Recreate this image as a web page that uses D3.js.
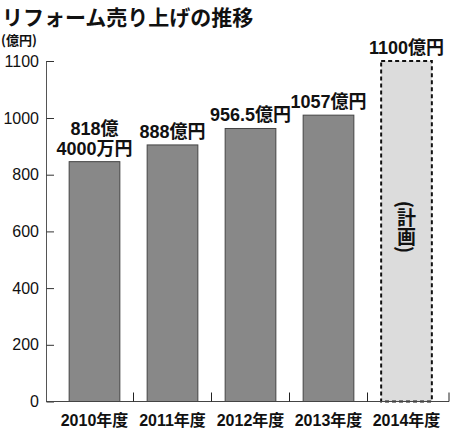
<!DOCTYPE html>
<html>
<head>
<meta charset="utf-8">
<script src="https://cdn.jsdelivr.net/npm/d3@7"></script>
<style>
  body { margin: 0; background: #fff; }
  text { font-family: "Liberation Sans", "Noto Sans CJK JP", sans-serif; fill: #111; }
</style>
</head>
<body>
<div id="chart"></div>
<script>
// data
const years = ["2010年度", "2011年度", "2012年度", "2013年度", "2014年度"];
const barValues = [846, 905, 963, 1005, 1100];   // bar heights as drawn
const labelLines = [["818億", "4000万円"], ["888億円"], ["956.5億円"], ["1057億円"], ["1100億円"]];
const planned = [false, false, false, false, true];
const yTicks = [0, 200, 400, 600, 800, 1000, 1100];

const svg = d3.select("#chart").append("svg")
    .attr("width", 450)
    .attr("height", 429);

// title
svg.append("text")
    .attr("x", 2).attr("y", 24.5)
    .style("font-family", "'Noto Sans CJK JP'")
    .style("font-size", "21px").style("font-weight", "bold")
    .text("リフォーム売り上げの推移");

svg.append("text")
    .attr("x", 1).attr("y", 45)
    .style("font-family", "'Noto Sans CJK JP'")
    .style("font-size", "13px").style("font-weight", "bold")
    .text("(億円)");

// the axis is stretched above 1000, so piecewise
const y = d3.scaleLinear().domain([0, 1000, 1100]).range([401.5, 118, 61]);
const x = d3.scaleBand().domain(years).range([55.5, 445.5])
    .paddingInner(0.35).paddingOuter(0.175);

const yAxis = svg.append("g")
    .attr("transform", "translate(46,0)")
    .call(d3.axisRight(y).tickValues(yTicks).tickSize(8).tickFormat(d3.format("d")));
yAxis.select(".domain").attr("stroke", "#555").attr("d", `M0.5,${y(1100)}V${y(0)}`);
yAxis.selectAll(".tick line").attr("stroke", "#333").attr("x1", 0.5);
yAxis.selectAll(".tick text")
    .attr("x", -7).attr("text-anchor", "end")
    .style("font-size", "16px");

// bars
svg.selectAll(".bar")
    .data(years)
    .enter().append("rect")
    .attr("class", "bar")
    .attr("x", d => x(d))
    .attr("y", (d, i) => y(barValues[i]))
    .attr("width", x.bandwidth())
    .attr("height", (d, i) => y(0) - y(barValues[i]))
    .attr("fill", (d, i) => planned[i] ? "#dcdcdc" : "#888")
    .attr("stroke", (d, i) => planned[i] ? "#111" : "#444")
    .attr("stroke-width", (d, i) => planned[i] ? 2 : 1)
    .attr("stroke-dasharray", (d, i) => planned[i] ? "4,3" : null);

// x baseline and separators
const base = svg.append("g");
base.append("line")
    .attr("x1", 46).attr("x2", 449)
    .attr("y1", y(0)).attr("y2", y(0))
    .attr("stroke", "#444");
const step = x.step();
base.selectAll(".sep")
    .data(years.slice(1).concat(["end"]))
    .enter().append("line")
    .attr("x1", d => d === "end" ? 449 : x(d) - step * 0.175)
    .attr("x2", d => d === "end" ? 449 : x(d) - step * 0.175)
    .attr("y1", y(0)).attr("y2", y(0) - 9)
    .attr("stroke", "#222");

// x labels
svg.selectAll(".xl")
    .data(years)
    .enter().append("text")
    .attr("x", d => x(d) + x.bandwidth() / 2)
    .attr("y", 426)
    .attr("text-anchor", "middle")
    .style("font-size", "16px").style("font-weight", "bold")
    .text(d => d);

// value labels
years.forEach((d, i) => {
    const lines = labelLines[i];
    lines.forEach((t, j) => {
        svg.append("text")
            .attr("x", x(d) + x.bandwidth() / 2)
            .attr("y", y(barValues[i]) - 7 - (lines.length - 1 - j) * 20)
            .attr("text-anchor", "middle")
            .style("font-size", "18px").style("font-weight", "bold")
            .text(t);
    });
});

// vertical note in the planned bar
svg.append("text")
    .attr("x", x("2014年度") + x.bandwidth() / 2)
    .attr("y", 227)
    .attr("text-anchor", "middle")
    .style("writing-mode", "vertical-rl")
    .style("font-family", "'Noto Sans CJK JP'")
    .style("font-size", "19px").style("font-weight", "bold")
    .text("(計画)");
</script>
</body>
</html>
